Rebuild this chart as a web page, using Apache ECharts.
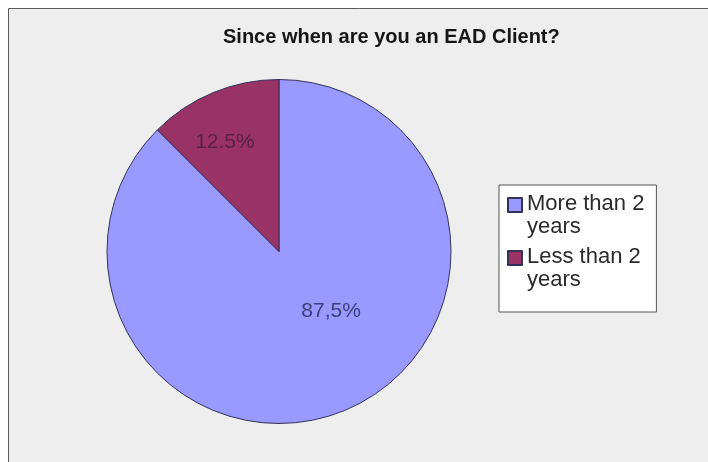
<!DOCTYPE html>
<html>
<head>
<meta charset="utf-8">
<script src="https://cdn.jsdelivr.net/npm/echarts@6/dist/echarts.min.js"></script>
<style>
  html, body { margin: 0; padding: 0; background: #ffffff; }
  #chart { width: 708px; height: 462px; }
</style>
</head>
<body>
<div id="chart"></div>
<script>
// Survey answer categories and their shares (percent)
const categories = ['More than 2 years', 'Less than 2 years'];
const shares = [87.5, 12.5];
const decimalMarks = [',', '.'];
const sliceColors = ['#9999ff', '#993366'];
const labelColors = ['#3e3e7c', '#5a2144'];
const chartTitle = 'Since when are you an EAD Client?';

// label nudges away from the default inside position
const labelNudge = [[18, -23], [-20, -27]];

const chart = echarts.init(document.getElementById('chart'));

chart.setOption({
  animation: false,
  backgroundColor: '#ffffff',
  graphic: [{
    type: 'rect',
    z: -10,
    silent: true,
    shape: { x: 8.5, y: 8.5, width: 800, height: 500 },
    style: { fill: '#eeeeee', stroke: '#5a5a5a', lineWidth: 1 }
  }],
  title: {
    text: chartTitle,
    left: 223,
    top: 27,
    padding: 0,
    textStyle: {
      fontFamily: 'Liberation Sans, Arial, sans-serif',
      fontSize: 20,
      fontWeight: 'bold',
      color: '#151515'
    }
  },
  legend: {
    orient: 'vertical',
    left: 499,
    top: 185,
    padding: [6, 12, 20, 8],
    itemGap: 5,
    itemWidth: 14,
    itemHeight: 46,
    icon: 'path://M0,0L0,0.01M0,45.99L0,46M0,6H14V20H0Z',
    selectedMode: false,
    backgroundColor: '#ffffff',
    borderColor: '#555555',
    borderWidth: 1,
    borderRadius: 0,
    formatter: name => name.replace(' years', '\nyears'),
    textStyle: {
      fontFamily: 'Liberation Sans, Arial, sans-serif',
      fontSize: 22,
      lineHeight: 23,
      color: '#2a2a2a'
    },
    data: categories
  },
  series: [{
    type: 'pie',
    center: [279, 251.5],
    radius: 172,
    startAngle: 90,
    clockwise: true,
    avoidLabelOverlap: false,
    itemStyle: { borderColor: '#33335a', borderWidth: 1 },
    emphasis: { disabled: true },
    label: {
      show: true,
      position: 'inside',
      fontFamily: 'Liberation Sans, Arial, sans-serif',
      fontSize: 21,
      formatter: p => p.value.toFixed(1).replace('.', decimalMarks[p.dataIndex]) + '%'
    },
    labelLine: { show: false },
    labelLayout: p => ({ dx: labelNudge[p.dataIndex][0], dy: labelNudge[p.dataIndex][1] }),
    data: categories.map((name, i) => ({
      name: name,
      value: shares[i],
      itemStyle: { color: sliceColors[i] },
      label: { color: labelColors[i] }
    }))
  }]
});
</script>
</body>
</html>
